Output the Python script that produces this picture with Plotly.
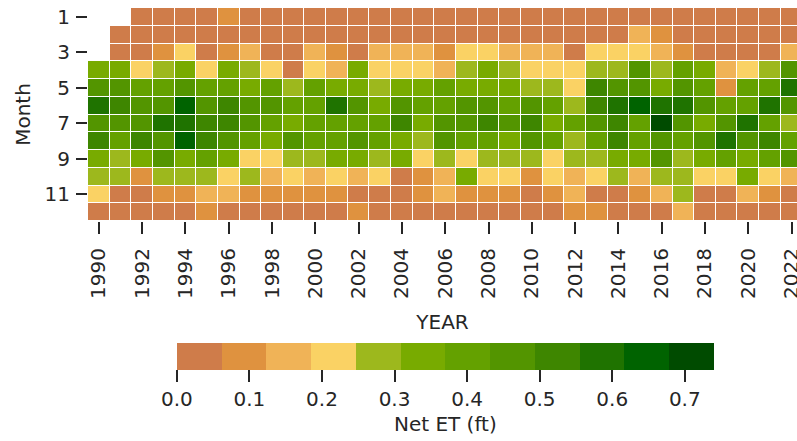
import plotly.graph_objects as go

years = list(range(1990, 2023))
months = list(range(1, 13))

m01 = [None, None, 0.03, 0.03, 0.03, 0.03, 0.09, 0.03, 0.03, 0.03, 0.03,
       0.03, 0.03, 0.03, 0.03, 0.03, 0.03, 0.03, 0.03, 0.03, 0.03, 0.03,
       0.03, 0.03, 0.03, 0.03, 0.03, 0.03, 0.03, 0.03, 0.03, 0.03, 0.03]
m02 = [None, 0.03, 0.03, 0.03, 0.03, 0.03, 0.03, 0.03, 0.03, 0.03, 0.03,
       0.03, 0.03, 0.03, 0.03, 0.03, 0.03, 0.03, 0.03, 0.03, 0.03, 0.03,
       0.03, 0.03, 0.03, 0.15, 0.09, 0.03, 0.03, 0.03, 0.03, 0.03, 0.03]
m03 = [None, 0.03, 0.03, 0.09, 0.22, 0.03, 0.09, 0.15, 0.03, 0.03, 0.15,
       0.09, 0.03, 0.15, 0.15, 0.15, 0.09, 0.22, 0.22, 0.15, 0.15, 0.15,
       0.03, 0.22, 0.22, 0.22, 0.15, 0.09, 0.03, 0.03, 0.03, 0.03, 0.15]
m04 = [0.34, 0.34, 0.22, 0.28, 0.34, 0.22, 0.34, 0.28, 0.22, 0.03, 0.22,
       0.15, 0.34, 0.22, 0.22, 0.22, 0.15, 0.28, 0.34, 0.28, 0.22, 0.22,
       0.22, 0.28, 0.28, 0.46, 0.28, 0.40, 0.34, 0.15, 0.22, 0.28, 0.46]
m05 = [0.46, 0.46, 0.40, 0.40, 0.46, 0.40, 0.40, 0.34, 0.40, 0.28, 0.40,
       0.34, 0.34, 0.28, 0.34, 0.34, 0.40, 0.34, 0.34, 0.34, 0.28, 0.28,
       0.22, 0.52, 0.46, 0.46, 0.34, 0.46, 0.40, 0.09, 0.40, 0.40, 0.59]
m06 = [0.59, 0.52, 0.46, 0.46, 0.65, 0.46, 0.52, 0.46, 0.46, 0.40, 0.40,
       0.59, 0.46, 0.34, 0.46, 0.40, 0.40, 0.46, 0.46, 0.40, 0.46, 0.40,
       0.28, 0.52, 0.59, 0.65, 0.59, 0.59, 0.46, 0.40, 0.40, 0.59, 0.46]
m07 = [0.46, 0.46, 0.46, 0.59, 0.59, 0.52, 0.52, 0.46, 0.40, 0.34, 0.40,
       0.40, 0.40, 0.40, 0.52, 0.34, 0.46, 0.46, 0.52, 0.46, 0.52, 0.34,
       0.40, 0.46, 0.52, 0.40, 0.71, 0.46, 0.34, 0.46, 0.59, 0.40, 0.28]
m08 = [0.52, 0.40, 0.52, 0.46, 0.65, 0.52, 0.46, 0.40, 0.34, 0.46, 0.40,
       0.40, 0.46, 0.40, 0.34, 0.28, 0.46, 0.40, 0.40, 0.34, 0.46, 0.40,
       0.28, 0.40, 0.52, 0.40, 0.46, 0.40, 0.46, 0.59, 0.46, 0.52, 0.40]
m09 = [0.34, 0.28, 0.34, 0.46, 0.34, 0.40, 0.34, 0.22, 0.22, 0.28, 0.28,
       0.34, 0.34, 0.28, 0.34, 0.22, 0.28, 0.22, 0.28, 0.28, 0.28, 0.22,
       0.28, 0.28, 0.34, 0.34, 0.46, 0.28, 0.34, 0.40, 0.34, 0.40, 0.46]
m10 = [0.28, 0.28, 0.09, 0.28, 0.28, 0.28, 0.22, 0.28, 0.15, 0.22, 0.15,
       0.22, 0.15, 0.22, 0.03, 0.09, 0.15, 0.34, 0.22, 0.22, 0.09, 0.22,
       0.15, 0.22, 0.28, 0.15, 0.28, 0.28, 0.22, 0.22, 0.34, 0.22, 0.15]
m11 = [0.22, 0.03, 0.03, 0.09, 0.09, 0.15, 0.15, 0.09, 0.09, 0.09, 0.09,
       0.09, 0.03, 0.03, 0.03, 0.09, 0.15, 0.09, 0.09, 0.09, 0.03, 0.09,
       0.15, 0.03, 0.03, 0.09, 0.15, 0.28, 0.03, 0.03, 0.15, 0.09, 0.03]
m12 = [0.03, 0.03, 0.03, 0.03, 0.03, 0.09, 0.03, 0.03, 0.03, 0.03, 0.03,
       0.03, 0.09, 0.03, 0.03, 0.03, 0.03, 0.03, 0.03, 0.03, 0.03, 0.03,
       0.09, 0.09, 0.03, 0.03, 0.03, 0.15, 0.03, 0.03, 0.03, 0.03, 0.03]

z = [m01, m02, m03, m04, m05, m06, m07, m08, m09, m10, m11, m12]

palette = ["#CF7C4A", "#DF923F", "#F0B357", "#FAD264", "#9DB81D", "#78AB00",
           "#64A100", "#539500", "#3E8600", "#1F7300", "#006300", "#004B00"]
zmin, zmax = 0.0, 0.74
n = len(palette)
colorscale = []
for i, c in enumerate(palette):
    colorscale.append([i / n, c])
    colorscale.append([(i + 1) / n, c])

FONT = "DejaVu Sans"
TXT = "#262626"
FS = 20

fig = go.Figure(go.Heatmap(
    x=years, y=months, z=z,
    zmin=zmin, zmax=zmax, colorscale=colorscale,
    xgap=1, ygap=1,
    colorbar=dict(
        orientation="h",
        x=0.504, xanchor="center",
        y=-0.573, yanchor="top",
        lenmode="pixels", len=537,
        thickness=27,
        xpad=0, ypad=0,
        outlinewidth=0,
        tickvals=[0, 0.1, 0.2, 0.3, 0.4, 0.5, 0.6, 0.7],
        ticktext=["0.0", "0.1", "0.2", "0.3", "0.4", "0.5", "0.6", "0.7"],
        ticks="outside", ticklen=12, tickwidth=1.8, tickcolor=TXT,
        tickfont=dict(family=FONT, size=FS, color=TXT),
        title=dict(text="Net ET (ft)", side="bottom",
                   font=dict(family=FONT, size=FS, color=TXT)),
    ),
))

fig.update_layout(
    width=797, height=441,
    margin=dict(l=88, r=0, t=8, b=220, autoexpand=False),
    paper_bgcolor="white", plot_bgcolor="white",
    font=dict(family=FONT, color=TXT),
    xaxis=dict(
        automargin=False,
        range=[1989.5, 2022.25],
        tickvals=list(range(1990, 2023, 2)),
        ticktext=[str(y) for y in range(1990, 2023, 2)],
        tickangle=-90,
        ticks="outside", ticklen=12, tickwidth=1.8, tickcolor=TXT,
        ticklabelstandoff=6, ticklabeloverflow="allow",
        tickfont=dict(family=FONT, size=FS, color=TXT),
        showgrid=False, zeroline=False, showline=False,
        title=dict(text="YEAR", font=dict(family=FONT, size=FS, color=TXT), standoff=17),
    ),
    yaxis=dict(
        automargin=False,
        range=[12.5, 0.5],
        tickvals=[1, 3, 5, 7, 9, 11],
        ticks="outside", ticklen=11, tickwidth=1.8, tickcolor=TXT,
        ticklabelstandoff=2, ticklabeloverflow="allow",
        tickfont=dict(family=FONT, size=FS, color=TXT),
        showgrid=False, zeroline=False, showline=False,
        title=dict(text="Month", font=dict(family=FONT, size=FS, color=TXT), standoff=8),
    ),
)

# remove the default page margin so the 797x441 figure fills the window exactly
fig.write_html("out.html",
               config={"displayModeBar": False},
               post_script="document.body.style.margin='0';document.body.style.overflow='hidden';")
